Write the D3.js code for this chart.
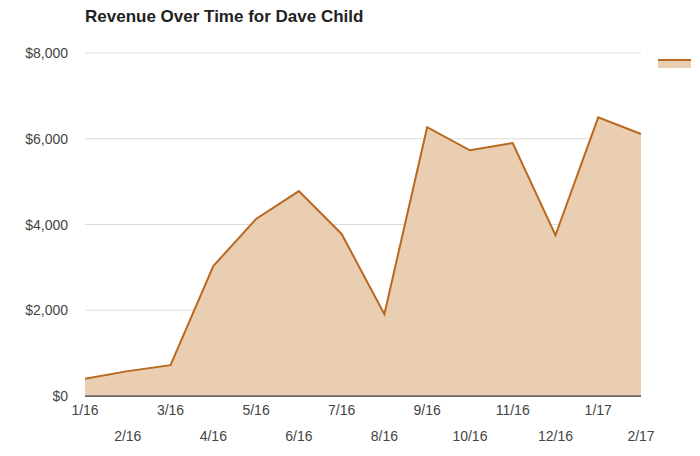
<!DOCTYPE html>
<html><head><meta charset="utf-8">
<script src="https://cdn.jsdelivr.net/npm/d3@7"></script>
<style>body{margin:0;background:#fff;font-family:Arial,"Liberation Sans",sans-serif}</style>
</head><body><svg id="c" width="700" height="456"></svg>
<script>
const months = ["1/16","2/16","3/16","4/16","5/16","6/16","7/16","8/16","9/16","10/16","11/16","12/16","1/17","2/17"];
const revenue = [400,580,720,3030,4130,4780,3780,1910,6270,5730,5900,3750,6500,6110];
const yTicks = [0,2000,4000,6000,8000];

const svg = d3.select("#c");
const m = {left:85, right:59, top:53, bottom:60};
const w = 700 - m.left - m.right, h = 456 - m.top - m.bottom;
const g = svg.append("g").attr("transform", `translate(${m.left},${m.top})`);

const x = d3.scalePoint().domain(months).range([0, w]);
const y = d3.scaleLinear().domain([0, 8000]).range([h, 0]);

// Grid lines
g.selectAll(".grid").data(yTicks).join("line")
  .attr("x1", 0).attr("x2", w)
  .attr("y1", d => y(d)).attr("y2", d => y(d))
  .attr("stroke", d => d === 0 ? "#333" : "#ddd").attr("stroke-width", 1);

// Y labels
g.selectAll(".yl").data(yTicks).join("text")
  .attr("x", -17).attr("y", d => y(d) + 5)
  .attr("text-anchor", "end").attr("font-size", 14).attr("fill", "#444")
  .text(d => d3.format("$,")(d));

// Area and line
const data = months.map((mth, i) => ({mth, v: revenue[i]}));
g.append("path").datum(data)
  .attr("fill", "#e9ceb2")
  .attr("d", d3.area().x(d => x(d.mth)).y0(h).y1(d => y(d.v)));
g.append("path").datum(data)
  .attr("fill", "none").attr("stroke", "#b8681f").attr("stroke-width", 2)
  .attr("d", d3.line().x(d => x(d.mth)).y(d => y(d.v)));
g.append("line").attr("x1", 0).attr("x2", w).attr("y1", h).attr("y2", h).attr("stroke", "#333");

// X labels alternate rows
g.selectAll(".xl").data(months).join("text")
  .attr("x", d => x(d)).attr("y", (d, i) => h + (i % 2 ? 45 : 19))
  .attr("text-anchor", "middle").attr("font-size", 14).attr("fill", "#444")
  .text(d => d);

// Title
svg.append("text").attr("x", 85).attr("y", 22)
  .attr("font-size", 17).attr("font-weight", "bold").attr("fill", "#222")
  .text("Revenue Over Time for Dave Child");

// Legend swatch
svg.append("rect").attr("x", 658).attr("y", 59).attr("width", 33).attr("height", 9).attr("fill", "#e9ceb2");
svg.append("line").attr("x1", 658).attr("x2", 691).attr("y1", 60).attr("y2", 60).attr("stroke", "#b8681f").attr("stroke-width", 2);
</script></body></html>
